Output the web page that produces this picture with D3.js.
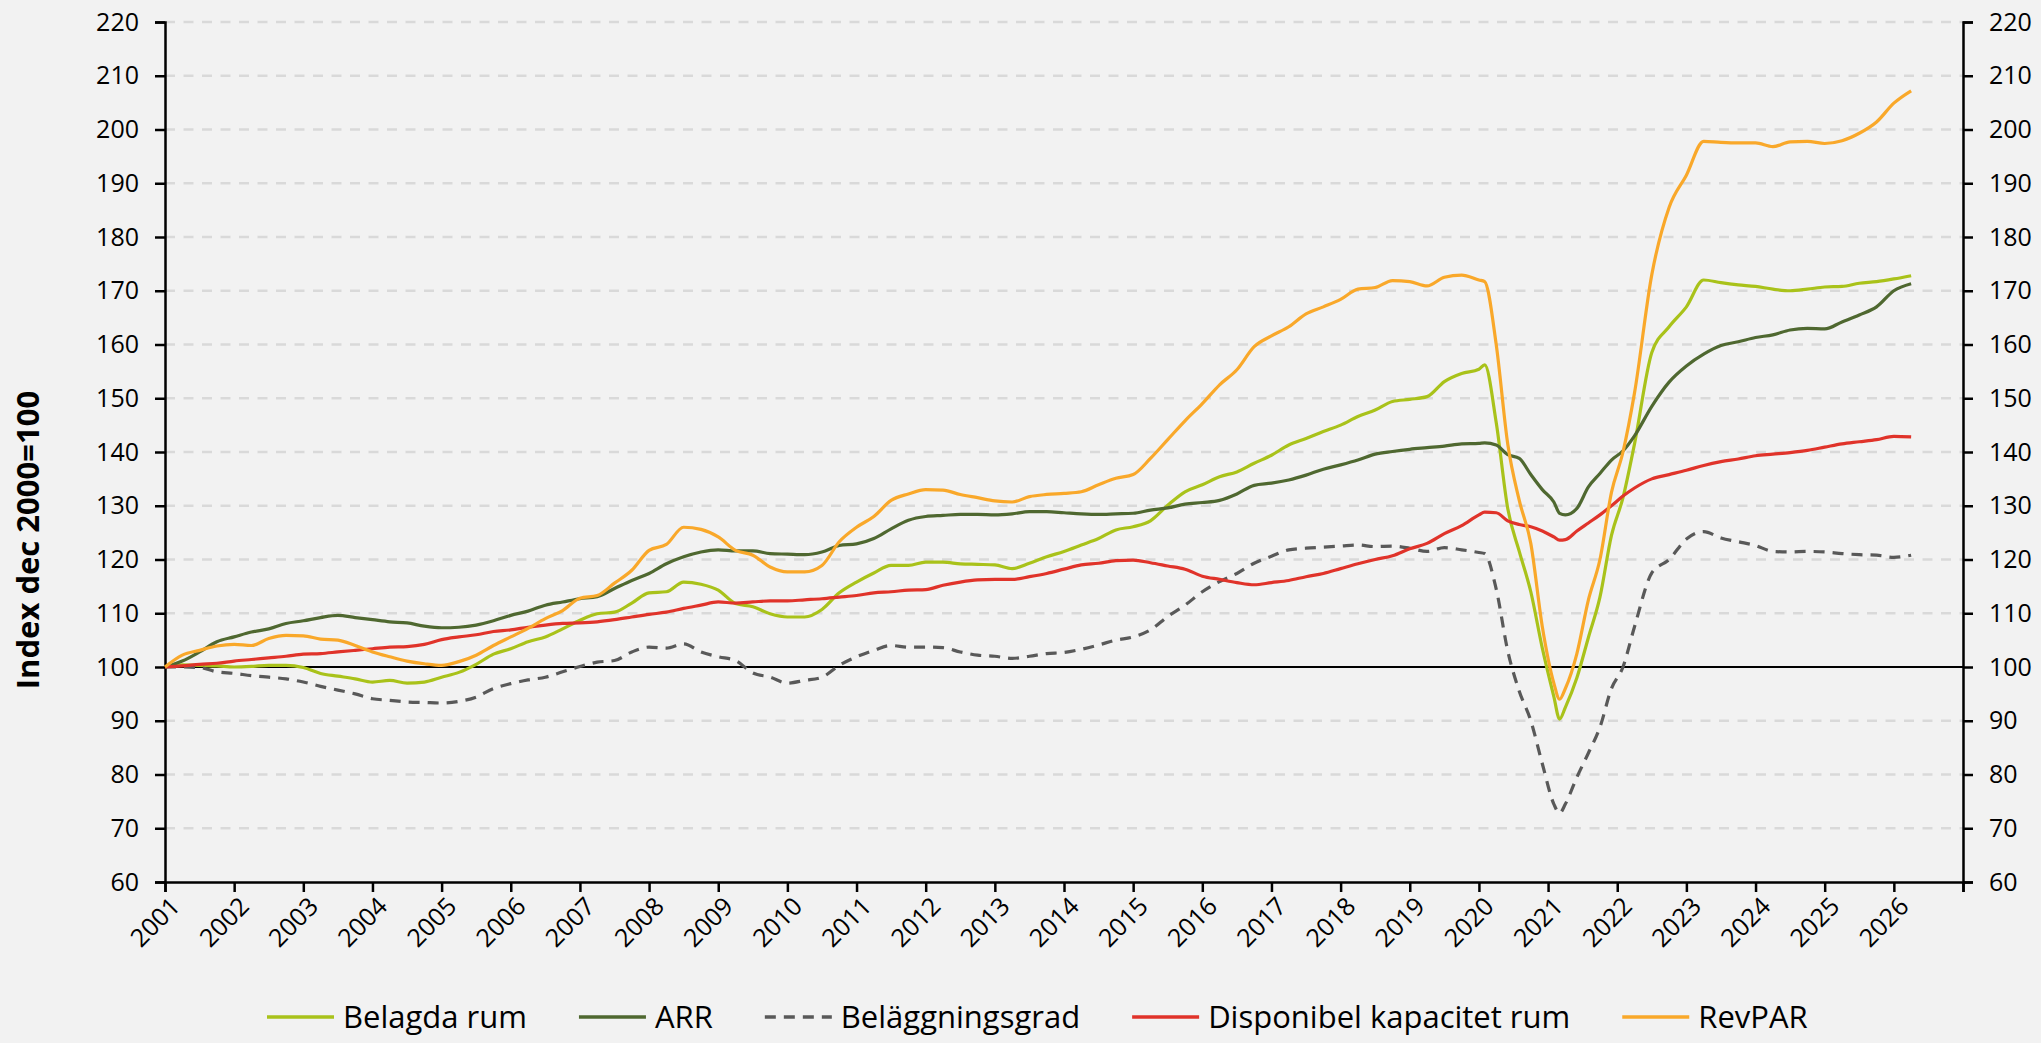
<!DOCTYPE html>
<html>
<head>
<meta charset="utf-8">
<script src="https://cdn.jsdelivr.net/npm/d3@7"></script>
<style>
  body { margin: 0; background: #f2f2f2; }
  svg { display: block; font-family: "Open Sans", sans-serif; }
</style>
</head>
<body>
<div id="chart"></div>
<script>
// months since dec 2000 (0 = first point, sits on the 2001 tick)
const months = [0,3,6,9,12,15,18,21,24,27,30,33,36,39,42,45,48,51,54,57,60,63,66,69,72,75,78,81,84,87,90,93,96,99,102,105,108,111,114,117,120,123,126,129,132,135,138,141,144,147,150,153,156,159,162,165,168,171,174,177,180,183,186,189,192,195,198,201,204,207,210,213,216,219,222,225,
  228,229,231,233,235,237,239,241,242,243,245,247,249,251,253,255,258,261,264,
  267,270,273,276,279,282,285,288,291,294,297,300,303];

const years = ["2001","2002","2003","2004","2005","2006","2007","2008","2009","2010","2011","2012","2013","2014","2015","2016","2017","2018","2019","2020","2021","2022","2023","2024","2025","2026"];
const yTicks = [60,70,80,90,100,110,120,130,140,150,160,170,180,190,200,210,220];

const belagdaRum = [100,100.4,100.3,100.2,100,100.1,100.3,100.3,99.9,98.8,98.3,97.8,97.2,97.5,97,97.2,98.1,99,100.5,102.4,103.4,104.7,105.6,107.1,108.7,109.9,110.2,111.9,113.8,114,115.8,115.4,114.3,111.8,111.2,109.9,109.3,109.3,110.7,113.8,115.8,117.5,118.9,118.9,119.5,119.5,119.2,119.1,119,118.3,119.3,120.5,121.5,122.7,123.9,125.5,126.1,127.2,130.1,132.6,133.9,135.4,136.3,137.9,139.4,141.3,142.5,143.8,145,146.6,147.8,149.4,149.8,150.3,153.1,154.6,
  155.4,156.2,145.5,129.5,121.5,114,103.5,94.5,90.3,92.5,98,105.5,113,124.5,131.5,141.5,158.5,163.3,167,
  172,171.5,171.1,170.8,170.3,170,170.3,170.7,170.8,171.4,171.7,172.2,172.8];

const arr = [100,101.1,102.8,104.7,105.6,106.5,107.1,108.1,108.6,109.2,109.6,109.2,108.8,108.4,108.2,107.6,107.3,107.4,107.8,108.6,109.6,110.4,111.5,112.1,112.7,113.1,114.6,116.1,117.4,119.2,120.5,121.4,121.8,121.6,121.6,121.1,121,120.9,121.4,122.6,122.9,123.9,125.7,127.3,128,128.2,128.4,128.4,128.3,128.5,128.9,128.9,128.7,128.5,128.4,128.5,128.6,129.2,129.6,130.3,130.6,131,132.2,133.8,134.2,134.8,135.7,136.8,137.6,138.5,139.6,140.1,140.5,140.8,141.1,141.5,
  141.6,141.7,141.3,139.5,138.8,135.8,133,130.7,128.6,128.3,129.5,133.5,136,138.5,140.2,143,148.5,153,156,
  158.2,159.8,160.5,161.3,161.8,162.7,163,162.9,164.2,165.5,167,170,171.3];

const belaggningsgrad = [100,100,99.9,99.1,98.8,98.4,98.1,97.8,97.2,96.4,95.7,95,94.1,93.8,93.5,93.4,93.3,93.6,94.4,96,96.9,97.6,98.1,99.1,100.1,100.9,101.2,102.8,103.7,103.5,104.3,102.8,101.9,101.2,98.9,98.1,97,97.5,98.1,100.3,101.9,103.1,104,103.7,103.7,103.6,102.8,102.2,102,101.6,102,102.5,102.7,103.3,104.1,105,105.6,106.9,109.4,111.5,114,115.9,117.4,119.3,120.6,121.8,122.1,122.3,122.5,122.7,122.4,122.5,122.1,121.5,122.2,121.8,
  121.3,121.1,114.5,103,95.5,90,82,74.5,72.8,74.5,79.5,84,88.8,96,100,107.5,117.5,120,123.8,
  125.2,124,123.3,122.6,121.5,121.4,121.5,121.4,121.1,120.9,120.8,120.4,120.8];

const kapacitet = [100,100.2,100.5,100.7,101.1,101.4,101.7,102,102.4,102.5,102.8,103.1,103.4,103.7,103.8,104.2,105.1,105.6,106,106.6,106.9,107.4,107.8,108.1,108.2,108.4,108.8,109.3,109.8,110.2,110.9,111.5,112.1,111.9,112.1,112.3,112.3,112.5,112.7,113,113.3,113.8,114,114.3,114.4,115.2,115.8,116.2,116.3,116.3,116.8,117.4,118.2,119,119.3,119.8,119.9,119.4,118.8,118.2,116.9,116.3,115.7,115.3,115.7,116.1,116.8,117.4,118.3,119.2,120,120.7,122,123,124.8,126.3,
  128.3,128.8,128.7,127.2,126.5,126.1,125.3,124.2,123.6,123.7,125.3,126.8,128.3,130,131.8,133.3,135,135.8,136.6,
  137.5,138.2,138.7,139.3,139.6,139.9,140.3,140.9,141.5,141.9,142.3,142.9,142.8];

const revpar = [100,102.2,103.1,103.9,104.2,104,105.3,105.9,105.8,105.2,105,104,102.8,101.9,101.1,100.6,100.3,101,102.2,104,105.6,107.2,109,110.5,112.8,113.3,115.6,118,121.7,122.8,126,125.6,124.2,121.7,120.8,118.6,117.7,117.7,118.9,123.3,126,128,131,132.2,133,132.9,132.1,131.5,130.9,130.7,131.7,132.1,132.3,132.6,133.9,135.1,135.8,138.8,142.3,145.8,149,152.5,155.3,159.6,161.6,163.3,165.7,167,168.4,170.3,170.6,171.9,171.7,170.9,172.5,172.9,
  172,171.7,160,141.5,131,123,107.5,97,94,96,102.5,112.5,120,132.5,140,151,173,185.5,191.5,
  197.8,197.6,197.5,197.5,196.8,197.7,197.8,197.4,197.9,199.3,201.4,204.9,207.2];

const seriesNames = ["Belagda rum", "ARR", "Beläggningsgrad", "Disponibel kapacitet rum", "RevPAR"];
const seriesValues = [belagdaRum, arr, belaggningsgrad, kapacitet, revpar];
const colors = ["#a9c21a", "#4f6830", "#595959", "#e0332a", "#f9a82a"];
const dashes = [null, null, "11,8", null, null];

const width = 2041;
const height = 1043;
const margin = { top: 22, right: 78, bottom: 161, left: 165 };
const innerW = width - margin.left - margin.right;
const innerH = height - margin.top - margin.bottom;

const svg = d3.select("#chart")
  .append("svg")
  .attr("width", width)
  .attr("height", height);

const g = svg.append("g")
  .attr("transform", `translate(${margin.left},${margin.top})`);

const x = d3.scaleLinear().domain([0, years.length * 12]).range([0, innerW]);
const y = d3.scaleLinear().domain([60, 220]).range([innerH, 0]);

// grid
g.append("g")
  .selectAll("line")
  .data(yTicks.filter((d) => d !== 60 && d !== 100))
  .enter()
  .append("line")
  .attr("x1", 0)
  .attr("x2", innerW)
  .attr("y1", (d) => y(d))
  .attr("y2", (d) => y(d))
  .attr("stroke", "#d9d9d9")
  .attr("stroke-width", 2.5)
  .attr("stroke-dasharray", "10,8.5");

// base line at 100
g.append("line")
  .attr("x1", 0)
  .attr("x2", innerW)
  .attr("y1", y(100))
  .attr("y2", y(100))
  .attr("stroke", "#000")
  .attr("stroke-width", 2);

// axes
const yLeft = g.append("g")
  .call(d3.axisLeft(y).tickValues(yTicks).tickSize(10).tickPadding(16));
const yRight = g.append("g")
  .attr("transform", `translate(${innerW},0)`)
  .call(d3.axisRight(y).tickValues(yTicks).tickSize(10).tickPadding(16));

const xTickVals = d3.range(0, years.length * 12 + 1, 12);
const xAxis = g.append("g")
  .attr("transform", `translate(0,${innerH})`)
  .call(d3.axisBottom(x)
    .tickValues(xTickVals)
    .tickSize(10)
    .tickFormat((d) => years[d / 12] || ""));

[yLeft, yRight, xAxis].forEach((ax) => {
  ax.select(".domain").attr("stroke", "#000").attr("stroke-width", 2.5);
  ax.selectAll(".tick line").attr("stroke", "#000").attr("stroke-width", 2.5);
  ax.selectAll("text")
    .attr("fill", "#000")
    .style("font-size", "25px")
    .style("font-family", "Open Sans");
});

xAxis.selectAll("text")
  .attr("x", 0)
  .attr("y", 0)
  .attr("dy", 0)
  .attr("text-anchor", "end")
  .attr("transform", "translate(16,26) rotate(-45)");

// series
const line = d3.line()
  .x((d) => x(d[0]))
  .y((d) => y(d[1]))
  .curve(d3.curveMonotoneX);

g.append("g")
  .selectAll("path")
  .data(seriesValues)
  .enter()
  .append("path")
  .attr("fill", "none")
  .attr("stroke", (d, i) => colors[i])
  .attr("stroke-width", 3.2)
  .attr("stroke-linejoin", "round")
  .attr("stroke-dasharray", (d, i) => dashes[i])
  .attr("d", (vals) => line(months.map((m, i) => [m, vals[i]])));

// y title
svg.append("text")
  .attr("transform", "translate(27,540) rotate(-90)")
  .attr("text-anchor", "middle")
  .attr("dominant-baseline", "central")
  .style("font-size", "31px")
  .style("font-weight", "bold")
  .text("Index dec 2000=100");

// legend: symbol, label, then a fixed gap to the next entry
const legendY = 1017;
const legend = svg.append("g");
let cursor = 267;
seriesNames.forEach((name, i) => {
  const item = legend.append("g").attr("transform", `translate(${cursor},${legendY})`);
  item.append("line")
    .attr("x1", 0)
    .attr("x2", 67)
    .attr("stroke", colors[i])
    .attr("stroke-width", 3.5)
    .attr("stroke-dasharray", dashes[i]);
  const label = item.append("text")
    .attr("x", 76)
    .attr("dy", "0.35em")
    .style("font-size", "31px")
    .text(name);
  cursor += 76 + label.node().getComputedTextLength() + 52;
});
</script>
</body>
</html>
